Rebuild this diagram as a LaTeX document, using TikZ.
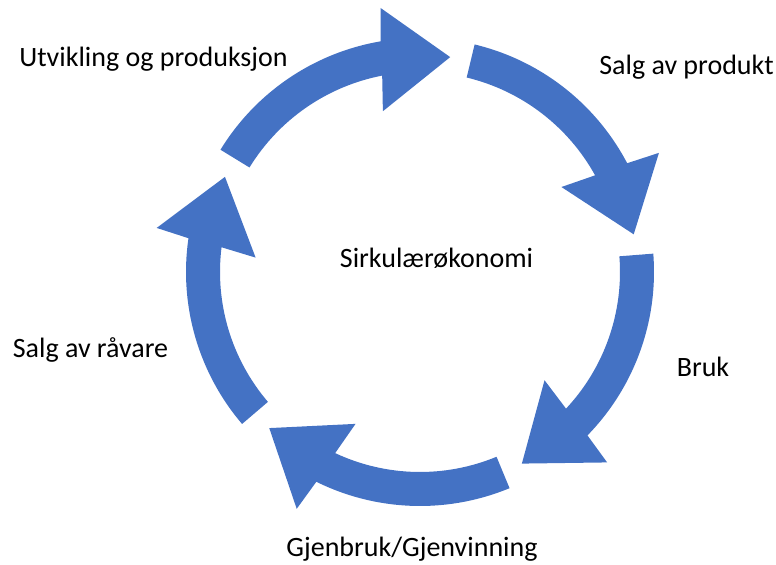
\documentclass[tikz,border=0pt]{standalone}
\usepackage{fontspec}
\setmainfont{Carlito}
\definecolor{arrowblue}{HTML}{4472C4}
\tikzset{
  cyclearrow/.style={fill=arrowblue, draw=none},
  steplabel/.style={anchor=base, inner sep=0pt, font=\fontsize{28bp}{32bp}\selectfont}
}
\begin{document}
\begin{tikzpicture}[x=1bp,y=1bp]
\useasboundingbox (0,0) rectangle (776,565);
% the five curved arrows round the centre
\begin{scope}[shift={(420,293)}]
  \foreach \a in {4.5,76.5,148.5,220.5,292.5}
    \fill[cyclearrow] (\a:234) arc[start angle=\a, end angle=\a-48.8, radius=234]
      -- (\a-50:267) -- (\a-66.5:217) -- (\a-45.5:165) -- (\a-47.6:200)
      arc[start angle=\a-47.6, end angle=\a, radius=200] -- cycle;
\end{scope}
% labels
\node[steplabel] (sirk) at (436.5,297) {Sirkulærøkonomi};
\node[steplabel] (utvikling) at (153.5,498) {Utvikling og produksjon};
\node[steplabel] (produkt) at (686.5,490) {Salg av produkt};
\node[steplabel] (bruk) at (703,188) {Bruk};
\node[steplabel] (gjenbruk) at (412,8) {Gjenbruk/Gjenvinning};
\node[steplabel] (raavare) at (90.5,207) {Salg av råvare};
\end{tikzpicture}
\end{document}
